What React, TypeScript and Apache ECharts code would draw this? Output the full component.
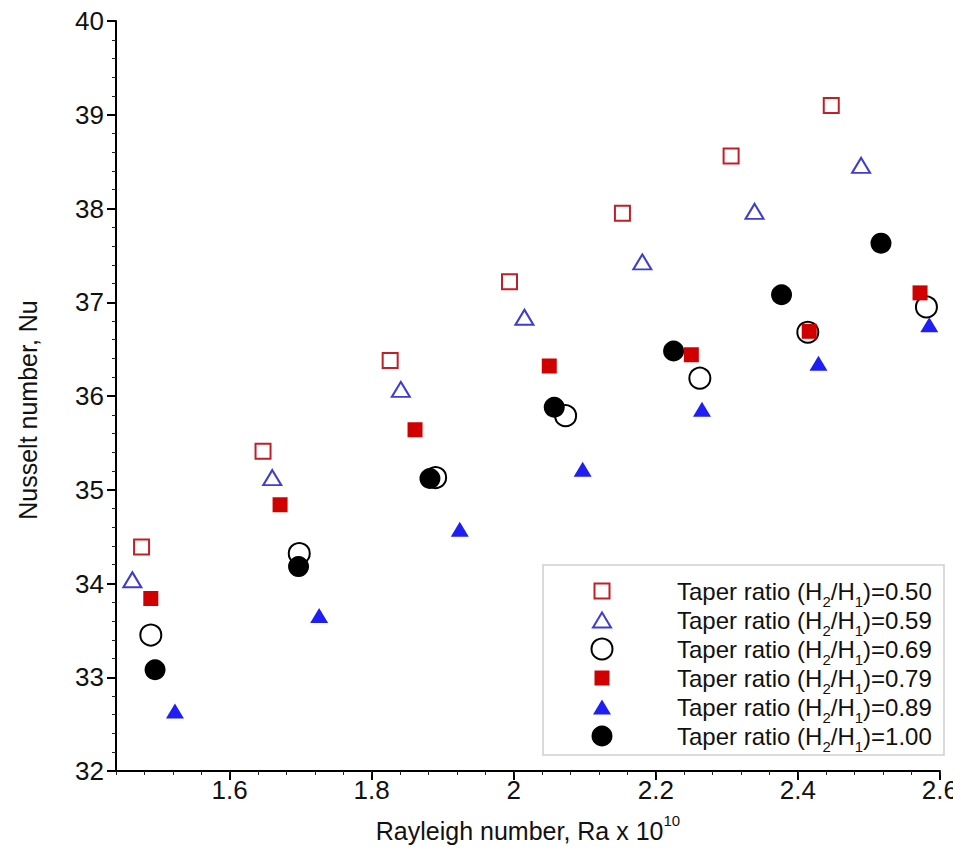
import React, { useEffect, useRef } from "react";
import * as echarts from "echarts";

const FONT = '"Liberation Sans", Arial, Helvetica, sans-serif';

// Tick values
const xTickValues = [1.6, 1.8, 2.0, 2.2, 2.4, 2.6];
const xMin = 1.44;
const xMax = 2.6;
const yMin = 32;
const yMax = 40;

// Legend ratios
const ratioLabels = ["0.50", "0.59", "0.69", "0.79", "0.89", "1.00"];

// Series values (Rayleigh number x1e10, Nusselt number)
const r050x = [1.476, 1.647, 1.826, 1.994, 2.153, 2.306, 2.447];
const r050y = [34.39, 35.41, 36.38, 37.22, 37.95, 38.56, 39.1];

const r059x = [1.463, 1.66, 1.841, 2.015, 2.181, 2.339, 2.489];
const r059y = [34.04, 35.13, 36.07, 36.84, 37.43, 37.97, 38.46];

const r069x = [1.489, 1.698, 1.89, 2.073, 2.262, 2.414, 2.581];
const r069y = [33.45, 34.32, 35.13, 35.79, 36.19, 36.68, 36.95];

const r079x = [1.489, 1.671, 1.861, 2.05, 2.25, 2.416, 2.572];
const r079y = [33.84, 34.84, 35.64, 36.32, 36.44, 36.69, 37.1];

const r089x = [1.523, 1.726, 1.924, 2.097, 2.265, 2.429, 2.585];
const r089y = [32.64, 33.66, 34.58, 35.22, 35.86, 36.35, 36.76];

const r100x = [1.495, 1.697, 1.882, 2.057, 2.225, 2.377, 2.517];
const r100y = [33.08, 34.18, 35.12, 35.88, 36.48, 37.08, 37.63];

const zip = (xs: number[], ys: number[]) => xs.map((x, i) => [x, ys[i]]);

export default function App() {
  const ref = useRef<HTMLDivElement>(null);

  useEffect(() => {
    if (!ref.current) return;
    const chart = echarts.init(ref.current, null, { renderer: "svg" });

    const names = ratioLabels.map((r) => `Taper ratio (H2/H1)=${r}`);

    type Sty = {
      symbol: string;
      size: number | number[];
      itemStyle: any;
    };
    const styles: Sty[] = [
      { symbol: "rect", size: 15, itemStyle: { color: "rgba(255,255,255,0)", borderColor: "#c11f28", borderWidth: 2, opacity: 1 } },
      { symbol: "triangle", size: [18, 15], itemStyle: { color: "rgba(255,255,255,0)", borderColor: "#3f3cd0", borderWidth: 2, opacity: 1 } },
      { symbol: "circle", size: 21, itemStyle: { color: "rgba(255,255,255,0)", borderColor: "#000000", borderWidth: 2, opacity: 1 } },
      { symbol: "rect", size: 15, itemStyle: { color: "#d00000", opacity: 1 } },
      { symbol: "triangle", size: [18, 15], itemStyle: { color: "#1f1ff5", opacity: 1 } },
      { symbol: "circle", size: 21, itemStyle: { color: "#000000", opacity: 1 } },
    ];
    const datasets = [
      zip(r050x, r050y),
      zip(r059x, r059y),
      zip(r069x, r069y),
      zip(r079x, r079y),
      zip(r089x, r089y),
      zip(r100x, r100y),
    ];

    const series = names.map((name, i) => ({
      name,
      type: "scatter",
      xAxisIndex: 0,
      yAxisIndex: 0,
      symbol: styles[i].symbol,
      symbolSize: styles[i].size,
      itemStyle: styles[i].itemStyle,
      emphasis: { disabled: true },
      data: datasets[i],
      z: 2 + i * 0.01,
    }));

    const iconCx = 602;
    const textX = 677;
    const rowY0 = 591;
    const rowGap = 29;
    const textH = 34;

    const legends = names.map((name, i) => {
      const sz = styles[i].size;
      const w = Array.isArray(sz) ? sz[0] : sz;
      const h = Array.isArray(sz) ? sz[1] : sz;
      const bw = i < 3 ? 2 : 0;
      const iw = w + bw;
      const ih = h + bw;
      const rowY = rowY0 + rowGap * i;
      return {
        show: true,
        data: [name],
        orient: "vertical",
        left: iconCx - iw / 2,
        top: rowY - Math.max(textH, ih) / 2,
        padding: 0,
        itemWidth: w,
        itemHeight: h,
        selectedMode: false,
        z: 5,
        formatter: () => `{t|Taper ratio (H}{s|2}{t|/H}{s|1}{t|)=${ratioLabels[i]}}`,
        textStyle: {
          color: "#111",
          fontFamily: FONT,
          padding: [0, 0, 0, textX - (iconCx + w / 2) - 5],
          rich: {
            t: { fontSize: 24, lineHeight: 34, fontFamily: FONT, color: "#111" },
            s: { fontSize: 15, lineHeight: 15, padding: [20, 0, 0, 0], fontFamily: FONT, color: "#111", verticalAlign: "top" },
          },
        },
      };
    });

    const option: any = {
      animation: false,
      backgroundColor: "#ffffff",
      textStyle: { fontFamily: FONT },
      grid: { left: 116, right: 17, top: 21, bottom: 88, containLabel: false },
      graphic: [
        {
          type: "rect",
          z: 3,
          shape: { x: 543, y: 565, width: 401, height: 190 },
          style: { fill: "#ffffff", stroke: "#cfcfcf", lineWidth: 1.5 },
        },
      ],
      legend: legends,
      xAxis: [
        {
          type: "value",
          min: xMin,
          max: xMax,
          position: "bottom",
          axisLine: { show: true, onZero: false, lineStyle: { color: "#000", width: 2 } },
          axisTick: { show: true, customValues: xTickValues, length: 9, lineStyle: { color: "#000", width: 2 } },
          axisLabel: { customValues: xTickValues, fontSize: 26, margin: 6, color: "#111", fontFamily: FONT },
          splitLine: { show: false },
          name: "{a|Rayleigh number, Ra x 10}{b|10}",
          nameLocation: "middle",
          nameGap: 42,
          nameTextStyle: {
            rich: {
              a: { fontSize: 25, lineHeight: 30, fontFamily: FONT, color: "#111", verticalAlign: "bottom" },
              b: { fontSize: 15, lineHeight: 15, padding: [0, 0, 15, 0], fontFamily: FONT, color: "#111", verticalAlign: "top" },
            },
          },
        },
        {
          type: "value",
          min: xMin,
          max: xMax,
          interval: 0.04,
          position: "bottom",
          axisLine: { show: false, onZero: false },
          axisTick: { show: true, length: 4, lineStyle: { color: "#222", width: 1 } },
          axisLabel: { show: false },
          splitLine: { show: false },
        },
      ],
      yAxis: [
        {
          type: "value",
          min: yMin,
          max: yMax,
          interval: 1,
          axisLine: { show: true, onZero: false, lineStyle: { color: "#000", width: 2 } },
          axisTick: { show: true, length: 9, lineStyle: { color: "#000", width: 2 } },
          minorTick: { show: true, splitNumber: 5, length: 4, lineStyle: { color: "#222", width: 1 } },
          axisLabel: { fontSize: 26, margin: 12, color: "#111", fontFamily: FONT },
          splitLine: { show: false },
          minorSplitLine: { show: false },
          name: "Nusselt number, Nu",
          nameLocation: "middle",
          nameGap: 76,
          nameTextStyle: { fontSize: 25, color: "#111", fontFamily: FONT, padding: [0, 28, 0, 0] },
        },
      ],
      series,
    };

    chart.setOption(option);
    return () => chart.dispose();
  }, []);

  return <div ref={ref} style={{ width: 961, height: 859, margin: -8 }} />;
}
